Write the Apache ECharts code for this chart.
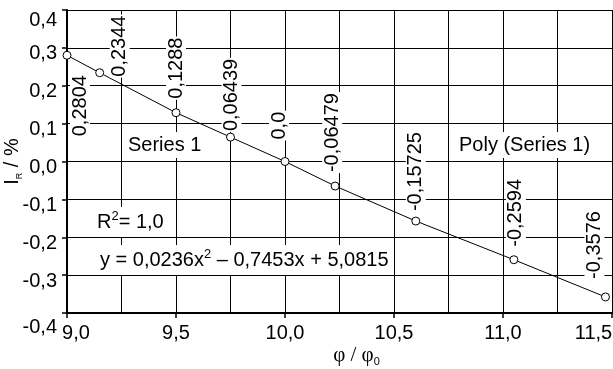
<!DOCTYPE html>
<html>
<head>
<meta charset="utf-8">
<script src="https://cdn.jsdelivr.net/npm/echarts@6/dist/echarts.min.js"></script>
<style>
  html, body { margin: 0; padding: 0; background: #fff; }
  #chart { width: 613px; height: 369px; }
</style>
</head>
<body>
<div id="chart"></div>
<script>
// data
const xValues = [9.0, 9.15, 9.5, 9.75, 10.0, 10.23, 10.6, 11.05, 11.47];
const yValues = [0.2804, 0.2344, 0.1288, 0.06439, 0.0, -0.06479, -0.15725, -0.2594, -0.3576];
const valueLabels = ["0,2804", "0,2344", "0,1288", "0,06439", "0,0", "-0,06479", "-0,15725", "-0,2594", "-0,3576"];

// where each rotated value label starts, relative to its point (screen px: dx, dy)
const labelShift = [[13, 82], [20, 5], [0, -13], [1, -5], [-6, -21], [-3, -13], [0, -9], [2, -12], [-11, -17]];

const FONT = "Liberation Sans";
const chart = echarts.init(document.getElementById("chart"));

const comma = v => v.toFixed(1).replace(".", ",");

const seriesData = xValues.map((x, i) => ({
  value: [x, yValues[i]],
  label: {
    formatter: valueLabels[i],
    // rotation turns the offset too: local [a, b] -> screen [b, -a]
    offset: [-labelShift[i][1], labelShift[i][0]]
  }
}));

const gridLine = { show: true, lineStyle: { color: "#000", width: 1, type: "solid" } };

const options = {
  animation: false,
  grid: { left: 67, right: 1, top: 10, bottom: 56, outerBoundsMode: "none" },
  xAxis: {
    type: "value",
    min: 9,
    max: 11.5,
    interval: 0.5,
    name: "{p|φ / φ}{s|0}",
    nameLocation: "middle",
    nameGap: 30,
    nameMoveOverlap: false,
    nameTextStyle: {
      padding: [0, 0, 0, 34],
      rich: {
        p: { fontFamily: "Liberation Serif", fontSize: 21, color: "#000", lineHeight: 24 },
        s: { fontFamily: FONT, fontSize: 11, color: "#000", verticalAlign: "bottom", lineHeight: 14 }
      }
    },
    axisLine: { show: true, onZero: false, lineStyle: { color: "#000", width: 2 } },
    axisTick: { show: true, length: 5, lineStyle: { color: "#000", width: 1.5 } },
    axisLabel: {
      margin: 10,
      formatter: v => {
        if (v <= 9) return "{l|" + comma(v) + "}";
        if (v >= 11.5) return "{r|" + comma(v) + "}";
        return "{n|" + comma(v) + "}";
      },
      rich: {
        n: { fontFamily: FONT, fontSize: 20, color: "#000" },
        l: { fontFamily: FONT, fontSize: 20, color: "#000", padding: [0, 0, 0, 18] },
        r: { fontFamily: FONT, fontSize: 20, color: "#000", padding: [0, 37, 0, 0] }
      }
    },
    splitLine: gridLine,
    minorTick: { show: false, splitNumber: 2 },
    minorSplitLine: gridLine
  },
  yAxis: {
    type: "value",
    min: -0.4,
    max: 0.4,
    interval: 0.1,
    name: "{a|I}{s|R}{a| / %}",
    nameLocation: "middle",
    nameRotate: 90,
    nameGap: 43,
    nameMoveOverlap: false,
    nameTextStyle: {
      rich: {
        a: { fontFamily: FONT, fontSize: 20, color: "#000", lineHeight: 24 },
        s: { fontFamily: FONT, fontSize: 9, color: "#000", verticalAlign: "bottom", lineHeight: 12 }
      }
    },
    axisLine: { show: true, onZero: false, lineStyle: { color: "#000", width: 2 } },
    axisTick: { show: true, length: 5, lineStyle: { color: "#000", width: 1.5 } },
    axisLabel: {
      margin: 10,
      formatter: v => {
        if (v <= -0.4) return "{m|" + comma(v) + "}";
        if (v >= 0.4) return "{t|" + comma(v) + "}";
        return "{n|" + comma(v) + "}";
      },
      rich: {
        n: { fontFamily: FONT, fontSize: 20, color: "#000", padding: [12, 0, 0, 0] },
        m: { fontFamily: FONT, fontSize: 20, color: "#000", padding: [28, 0, 0, 0] },
        t: { fontFamily: FONT, fontSize: 20, color: "#000", padding: [20, 0, 0, 0] }
      }
    },
    splitLine: gridLine
  },
  series: [
    {
      name: "Series 1",
      type: "line",
      data: seriesData,
      symbol: "circle",
      symbolSize: 8,
      lineStyle: { color: "#000", width: 1 },
      itemStyle: { color: "#fff", borderColor: "#000", borderWidth: 1 },
      label: {
        show: true,
        position: "inside",
        rotate: 90,
        align: "left",
        verticalAlign: "middle",
        fontFamily: FONT,
        fontSize: 20,
        color: "#000",
        backgroundColor: "#fff",
        padding: [0, 1]
      },
      emphasis: { disabled: true },
      z: 5
    }
  ],
  graphic: [
    {
      type: "text", x: 124, y: 145, z: 10,
      style: { text: "Series 1", font: "20px " + FONT, fill: "#000", verticalAlign: "middle", backgroundColor: "#fff", padding: [3, 4] }
    },
    {
      type: "text", x: 455, y: 145, z: 10,
      style: { text: "Poly (Series 1)", font: "20px " + FONT, fill: "#000", verticalAlign: "middle", backgroundColor: "#fff", padding: [3, 4] }
    },
    {
      type: "text", x: 93, y: 222, z: 10,
      style: {
        text: "{a|R}{s|2}{a|= 1,0}",
        verticalAlign: "middle", backgroundColor: "#fff", padding: [3, 4],
        rich: {
          a: { fontFamily: FONT, fontSize: 20, fill: "#000", lineHeight: 24 },
          s: { fontFamily: FONT, fontSize: 13, fill: "#000", verticalAlign: "top", lineHeight: 13 }
        }
      }
    },
    {
      type: "text", x: 96, y: 260, z: 10,
      style: {
        text: "{a|y = 0,0236x}{s|2}{a| – 0,7453x + 5,0815}",
        verticalAlign: "middle", backgroundColor: "#fff", padding: [3, 4],
        rich: {
          a: { fontFamily: FONT, fontSize: 20, fill: "#000", lineHeight: 24 },
          s: { fontFamily: FONT, fontSize: 13, fill: "#000", verticalAlign: "top", lineHeight: 13 }
        }
      }
    }
  ]
};

chart.setOption(options);
</script>
</body>
</html>
